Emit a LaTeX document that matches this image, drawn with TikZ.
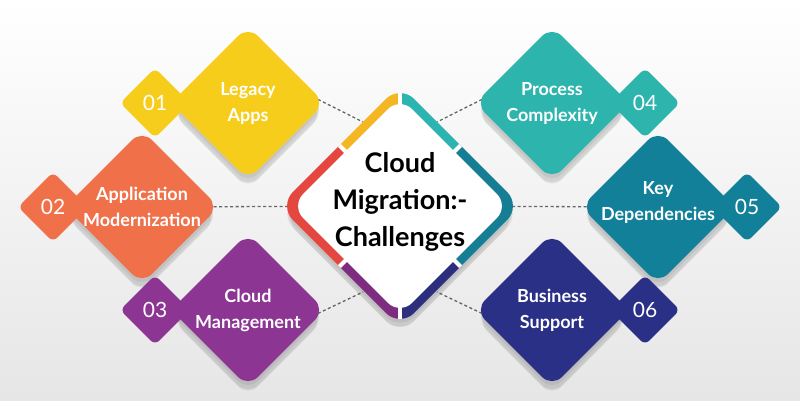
\documentclass[tikz,border=0pt]{standalone}
\usepackage{fontspec}
\setmainfont{Lato}
\usetikzlibrary{shapes.geometric, shadows, calc}
\definecolor{legacyc}{HTML}{F6CD1B}
\definecolor{appmodc}{HTML}{F0704A}
\definecolor{cloudmc}{HTML}{8C3593}
\definecolor{processc}{HTML}{2DB5AD}
\definecolor{keydepc}{HTML}{13809A}
\definecolor{businessc}{HTML}{2B3087}
\definecolor{ringa}{HTML}{F4B622}
\definecolor{ringb}{HTML}{E4473F}
\definecolor{ringc}{HTML}{7E2C80}
\definecolor{ringd}{HTML}{2C2F7E}
\definecolor{ringe}{HTML}{157D94}
\definecolor{ringf}{HTML}{2CB4B1}
\definecolor{bgbottom}{HTML}{E6E6E6}
\pgfdeclarelayer{background}
\pgfsetlayers{background,main}
\tikzset{
  softshadow/.style={
    drop shadow={shadow xshift=0pt, shadow yshift=-4pt, opacity=.06, fill=black},
    drop shadow={shadow xshift=0pt, shadow yshift=-8pt, opacity=.07, fill=black},
    drop shadow={shadow xshift=0pt, shadow yshift=-12pt, shadow scale=.97, opacity=.07, fill=black}},
  bigdia/.style={diamond, inner sep=0pt, minimum size=154pt, rounded corners=14pt, fill=#1, softshadow},
  smalldia/.style={diamond, inner sep=0pt, minimum size=70pt, rounded corners=6pt, fill=#1},
  itemtext/.style={text=white, align=center, font=\bfseries\fontsize{18}{26}\selectfont},
  numtext/.style={text=white, font=\fontsize{21}{21}\selectfont},
  link/.style={draw=black!60, line width=1.3pt, dash pattern=on 3pt off 2.5pt}
}

\begin{document}
\begin{tikzpicture}[x=1pt, y=-1pt]
\useasboundingbox (0,0) rectangle (800,400);
\begin{pgfonlayer}{background}
\shade[top color=white, bottom color=bgbottom] (0,0) rectangle (800,400);
\end{pgfonlayer}

\node[bigdia=legacyc] (legacy) at (248,103) {};
\node[smalldia=legacyc] (n1) at (155,103) {};
\node[bigdia=appmodc] (appmod) at (142,207) {};
\node[smalldia=appmodc] (n2) at (53,207) {};
\node[bigdia=cloudmc] (cloudm) at (248,310) {};
\node[smalldia=cloudmc] (n3) at (155,310) {};
\node[bigdia=processc] (process) at (552,103) {};
\node[smalldia=processc] (n4) at (645,103) {};
\node[bigdia=keydepc] (keydep) at (658,207) {};
\node[smalldia=keydepc] (n5) at (747,207) {};
\node[bigdia=businessc] (business) at (552,310) {};
\node[smalldia=businessc] (n6) at (645,310) {};

\node[itemtext] (legacytext) at (legacy) {Legacy\\Apps};
\node[itemtext] (appmodtext) at (appmod) {Application\\Modernization};
\node[itemtext] (cloudmtext) at (cloudm) {Cloud\\Management};
\node[itemtext] (processtext) at (process) {Process\\Complexity};
\node[itemtext, yshift=5pt] (keydeptext) at (keydep) {Key\\Dependencies};
\node[itemtext] (businesstext) at (business) {Business\\Support};
\foreach \i in {1,...,6}
  \node[numtext] (t\i) at (n\i) {0\i};

\node[diamond, inner sep=0pt, minimum size=242pt, rounded corners=20pt, fill=white, softshadow] (core) at (400,206) {};
\coordinate (cnw) at ($(core.north)!0.5!(core.west)$);
\coordinate (csw) at ($(core.south)!0.5!(core.west)$);
\coordinate (cne) at ($(core.north)!0.5!(core.east)$);
\coordinate (cse) at ($(core.south)!0.5!(core.east)$);
\begin{scope}
\clip[rounded corners=20pt] (core.north) -- (core.east) -- (core.south) -- (core.west) -- cycle;
\fill[ringa] (core.center) -- ($(core.center)!2!(core.north)$) -- ($(core.center)!2!(cnw)$) -- cycle;
\fill[ringb] (core.center) -- ($(core.center)!2!(cnw)$) -- ($(core.center)!2!(core.west)$) -- ($(core.center)!2!(csw)$) -- cycle;
\fill[ringc] (core.center) -- ($(core.center)!2!(csw)$) -- ($(core.center)!2!(core.south)$) -- cycle;
\fill[ringd] (core.center) -- ($(core.center)!2!(core.south)$) -- ($(core.center)!2!(cse)$) -- cycle;
\fill[ringe] (core.center) -- ($(core.center)!2!(cse)$) -- ($(core.center)!2!(core.east)$) -- ($(core.center)!2!(cne)$) -- cycle;
\fill[ringf] (core.center) -- ($(core.center)!2!(cne)$) -- ($(core.center)!2!(core.north)$) -- cycle;
\foreach \p in {core.north, core.south, cnw, csw, cne, cse}
  \draw[white, line width=4pt] (core.center) -- ($(core.center)!1.2!(\p)$);
\end{scope}
\node[diamond, inner sep=0pt, minimum size=218pt, rounded corners=17pt, fill=white] (inner) at (core) {};
\node[align=center, font=\bfseries\fontsize{27}{37}\selectfont] (title) at (400,202) {Cloud\\Migration:-\\Challenges};

\coordinate (e1) at (363,122);
\coordinate (e3) at (363,292);
\coordinate (e4) at (437,122);
\coordinate (e6) at (437,292);
\begin{pgfonlayer}{background}
\draw[link, shorten <=-8pt] (legacy.east) -- (e1);
\draw[link, shorten <=-8pt] (cloudm.east) -- (e3);
\draw[link, shorten <=-8pt] (process.west) -- (e4);
\draw[link, shorten <=-8pt] (business.west) -- (e6);
\draw[link] (appmod.center) -- (core.center);
\draw[link] (keydep.center) -- (core.center);
\end{pgfonlayer}
\end{tikzpicture}
\end{document}
